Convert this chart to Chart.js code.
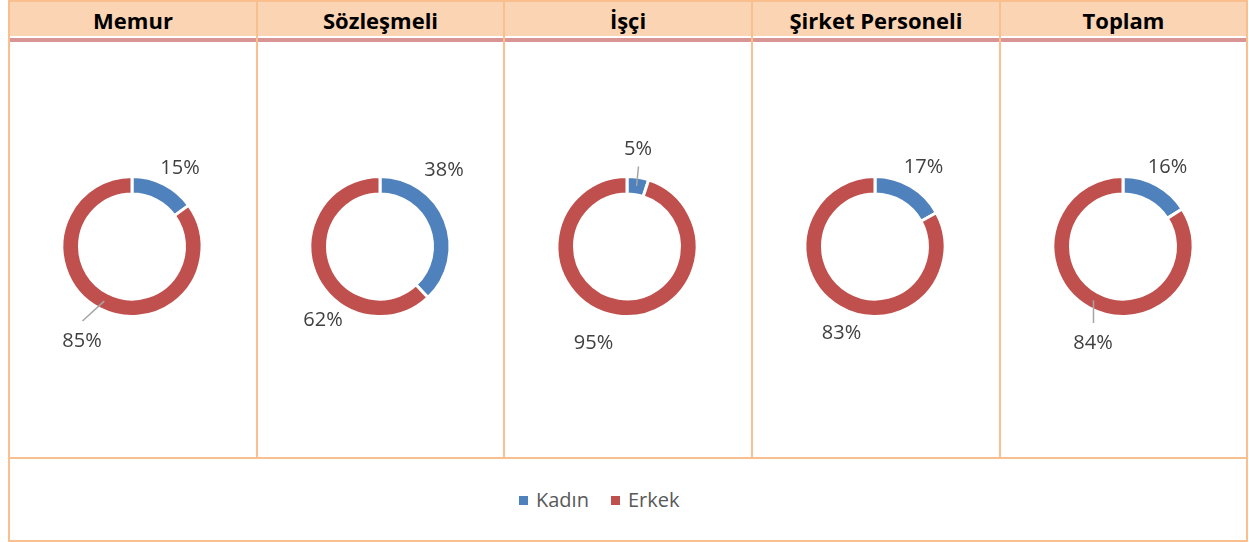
<!DOCTYPE html>
<html><head><meta charset="utf-8">
<script src="https://cdn.jsdelivr.net/npm/chart.js@4"></script>
<style>
html,body{margin:0;padding:0;background:#fff;}
#wrap{position:relative;width:1249px;height:542px;overflow:hidden;font-family:"Open Sans",sans-serif;}
.ln{position:absolute;background:#FABF8F;}
.hdr{position:absolute;top:2px;height:34px;background:#FBD4B4;}
.pink{position:absolute;top:38px;height:4px;background:#D99594;}
.ttl{position:absolute;top:2px;height:36px;line-height:36px;text-align:center;font-weight:bold;font-size:22px;color:#000;}
canvas{position:absolute;}
#legend{position:absolute;top:486px;height:26px;left:519px;display:flex;align-items:center;font-size:20px;color:#595959;}
.sw{width:9px;height:9px;margin-right:8px;margin-top:2px;}
.it{display:flex;align-items:center;margin-right:22px;}
</style>
</head><body>
<div id="wrap"></div>
<script>
// ---- data ----
const groups = ["Memur", "Sözleşmeli", "İşçi", "Şirket Personeli", "Toplam"];
const seriesNames = ["Kadın", "Erkek"];
const kadin = [15, 38, 5, 17, 16];
const erkek = [85, 62, 95, 83, 84];
const colors = ["#4F81BD", "#C0504D"];

// ---- layout (label placement relative to ring centre, px) ----
const labelOffsets = [
  [[48, -79.5], [-50, 93.5]],
  [[64, -77.5], [-57, 72.5]],
  [[11, -99], [-33.5, 95]],
  [[48.5, -80.5], [-33.5, 85.5]],
  [[44.5, -81], [-30, 95.5]]
];
const leaders = [[false, true], [false, false], [true, false], [false, false], [false, true]];

const wrap = document.getElementById('wrap');
const xs = [8, 256, 503, 751, 999, 1246];
function div(cls, l, t, w, h) {
  const d = document.createElement('div'); d.className = cls;
  d.style.left = l + 'px'; if (t !== null) d.style.top = t + 'px';
  if (w !== null) d.style.width = w + 'px'; if (h !== null) d.style.height = h + 'px';
  wrap.appendChild(d); return d;
}
div('hdr', 10, null, 1236, null);
div('pink', 10, null, 1236, null);
groups.forEach((g, i) => {
  const t = div('ttl', xs[i] + 2, null, xs[i + 1] - xs[i] - 2, null);
  t.textContent = g;
});
// borders
div('ln', 8, 0, 1240, 2);
div('ln', 8, 457, 1240, 2);
div('ln', 8, 540, 1240, 2);
xs.forEach((x, k) => {
  const outer = (k === 0 || k === xs.length - 1);
  div('ln', x, 0, 2, outer ? 542 : 459);
});

// legend
const lg = document.createElement('div'); lg.id = 'legend'; wrap.appendChild(lg);
seriesNames.forEach((n, i) => {
  const it = document.createElement('div'); it.className = 'it';
  const sw = document.createElement('div'); sw.className = 'sw'; sw.style.background = colors[i];
  const tx = document.createElement('span'); tx.textContent = n;
  it.appendChild(sw); it.appendChild(tx); lg.appendChild(it);
});

const BW = 3;
const R = 68.5 + BW / 2, RI = 54 - BW / 2;
const labelPlugin = {
  id: 'lbl',
  afterDraw(chart) {
    const ci = chart.options.plugins.lbl.idx;
    const ctx = chart.ctx;
    const meta = chart.getDatasetMeta(0);
    const ds = chart.data.datasets[0];
    ctx.save();
    meta.data.forEach((arc, i) => {
      const p = arc.getProps(['x', 'y', 'startAngle', 'endAngle', 'outerRadius', 'innerRadius'], true);
      const off = labelOffsets[ci][i];
      const lx = p.x + off[0], ly = p.y + off[1];
      if (leaders[ci][i]) {
        const mid = (p.startAngle + p.endAngle) / 2;
        const rm = (p.outerRadius + p.innerRadius) / 2;
        const sign = off[1] > 0 ? -1 : 1;
        ctx.strokeStyle = '#A6A6A6'; ctx.lineWidth = 1.5;
        ctx.beginPath();
        ctx.moveTo(lx + 0.5, ly + sign * 19);
        ctx.lineTo(p.x + rm * Math.cos(mid), p.y + rm * Math.sin(mid));
        ctx.stroke();
      }
      ctx.fillStyle = '#404040';
      ctx.font = '20px "Open Sans"';
      ctx.textAlign = 'center'; ctx.textBaseline = 'alphabetic';
      ctx.fillText(ds.data[i] + '%', lx, ly + 7);
    });
    ctx.restore();
  }
};

groups.forEach((g, i) => {
  const cx = (xs[i] + 2 + xs[i + 1]) / 2 - 1;
  const cv = document.createElement('canvas');
  cv.width = 240; cv.height = 401;
  cv.style.left = Math.round(cx - 120) + 'px';
  cv.style.top = '46px';
  wrap.appendChild(cv);
  new Chart(cv, {
    type: 'doughnut',
    data: {
      labels: seriesNames,
      datasets: [{ data: [kadin[i], erkek[i]], backgroundColor: colors, borderWidth: BW, borderColor: '#FFFFFF' }]
    },
    options: {
      responsive: false, animation: false,
      radius: R, cutout: (RI / R * 100) + '%',
      layout: { padding: 0 },
      plugins: { legend: { display: false }, tooltip: { enabled: false }, lbl: { idx: i } },
      events: []
    },
    plugins: [labelPlugin]
  });
});
</script>
</body></html>
